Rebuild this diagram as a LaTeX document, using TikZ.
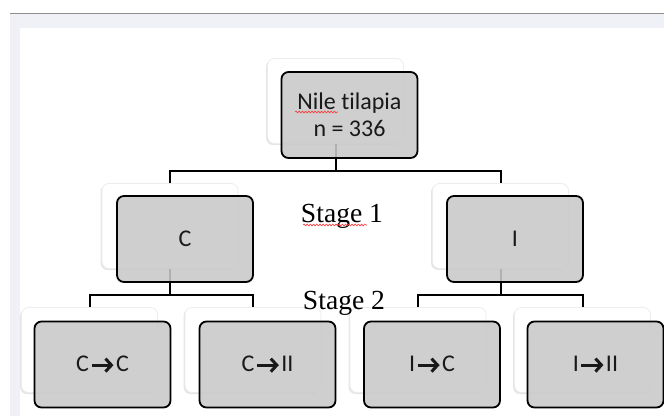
\documentclass[tikz,border=0pt]{standalone}
\usepackage{fontspec}
\setmainfont[Ligatures=NoCommon]{Carlito}
\newfontfamily\stagefont{Liberation Serif}
\usetikzlibrary{shadows,decorations.pathmorphing,arrows.meta}
\definecolor{panel}{HTML}{F0F1F6}
\definecolor{boxgray}{HTML}{C9C9C9}
\newcommand\garrow{\hspace{1pt}\tikz[baseline=-0.55ex]\draw[line width=3pt,black!90,-{Straight Barb[length=6pt,width=13pt,line width=3pt]}] (0,0) -- (22pt,0);\hspace{1pt}}
\tikzset{
 shadowbox/.style={draw=black!7, line width=0.8pt, fill=white, rounded corners=7pt, minimum width=136pt, minimum height=85pt, inner sep=0pt,
   drop shadow={shadow xshift=-1.5pt, shadow yshift=-1.5pt, opacity=0.10, fill=black}},
 graybox/.style={draw=black, line width=1.8pt, fill=boxgray, fill opacity=0.88, text opacity=1, rounded corners=7pt,
   minimum width=136pt, minimum height=86pt, inner sep=0pt, font=\fontsize{24}{27}\selectfont, align=center, text=black!90},
 conn/.style={line width=2pt, black},
 stagelabel/.style={font=\stagefont\fontsize{27.6}{30}\selectfont, anchor=base, inner sep=0pt},
 squiggle/.style={red!80, line width=0.6pt, decorate, decoration={snake, amplitude=0.9pt, segment length=3.2pt}}
}
\begin{document}
\begin{tikzpicture}[x=1pt,y=-1pt]
\useasboundingbox (0,0) rectangle (664,416);
\fill[white] (0,0) rectangle (664,416);
\fill[panel] (10,13) rectangle (664,416);
\draw[black!45, line width=1pt] (10,13.5) -- (664,13.5);
\fill[white] (20,28) rectangle (664,416);

\node[shadowbox] (w0) at (335.5,101) {};
\node[shadowbox] (wC) at (170,226) {};
\node[shadowbox] (wI) at (500.5,226) {};
\node[shadowbox] (wCC) at (89.5,350) {};
\node[shadowbox] (wCI) at (253,350) {};
\node[shadowbox] (wIC) at (418,350) {};
\node[shadowbox] (wII) at (582.5,350) {};

\coordinate (j1) at (335.5,170.5);
\coordinate (j2) at (170,295);
\coordinate (j3) at (500.5,295);
\draw[conn] (w0.south) -- (j1);
\draw[conn] (wC.north) |- (j1) -| (wI.north);
\draw[conn] (wC.south) -- (j2);
\draw[conn] (wCC.north) |- (j2) -| (wCI.north);
\draw[conn] (wI.south) -- (j3);
\draw[conn] (wIC.north) |- (j3) -| (wII.north);

\node[graybox] (top) at (349.5,115) {Nile tilapia\\n = 336};
\node[graybox] (C) at (185,239) {C};
\node[graybox] (I) at (515,239) {I};
\node[graybox] (CC) at (102.5,364.5) {C\garrow C};
\node[graybox] (CI) at (267.5,364.5) {C\garrow II};
\node[graybox] (IC) at (432,364.5) {I\garrow C};
\node[graybox] (II) at (595.5,364.5) {I\garrow II};

\node[stagelabel] (s1) at (342,222) {Stage 1};
\node[stagelabel] (s2) at (344,309) {Stage 2};

\draw[squiggle] (295,112) -- (338,112);
\draw[squiggle] (303,225) -- (367,225);
\end{tikzpicture}
\end{document}
